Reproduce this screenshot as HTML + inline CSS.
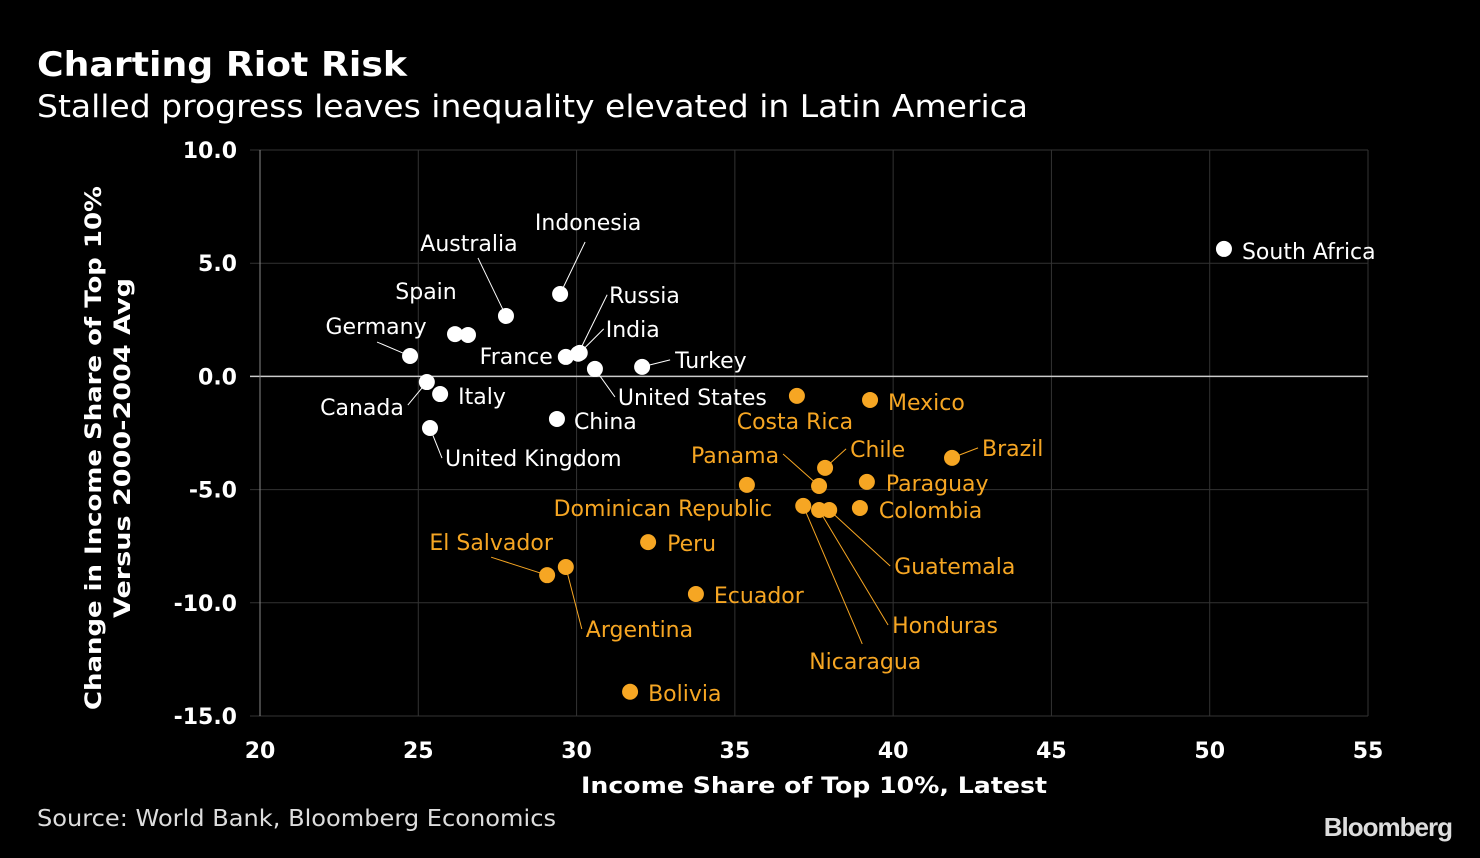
<!DOCTYPE html>
<html><head><meta charset="utf-8"><style>
html,body{margin:0;padding:0;background:#000;}
body{width:1480px;height:854px;overflow:hidden;font-family:"DejaVu Sans","Liberation Sans",sans-serif;}
</style></head><body>
<svg id="chart" width="1480" height="854" xmlns="http://www.w3.org/2000/svg" style="font-family:'DejaVu Sans','Liberation Sans',sans-serif">
<text x="37" y="76" fill="#fff" font-size="34" font-weight="bold" textLength="370" lengthAdjust="spacingAndGlyphs">Charting Riot Risk</text>
<text x="37" y="117" fill="#fff" font-size="31" textLength="991" lengthAdjust="spacingAndGlyphs">Stalled progress leaves inequality elevated in Latin America</text>
<text transform="translate(103,448) rotate(-90)" text-anchor="middle" fill="#fff" font-size="22" font-weight="bold"><tspan x="0" dy="-2" textLength="524" lengthAdjust="spacingAndGlyphs">Change in Income Share of Top 10%</tspan><tspan x="0" dy="29" textLength="340" lengthAdjust="spacingAndGlyphs">Versus 2000-2004 Avg</tspan></text>
<text x="814" y="793" text-anchor="middle" fill="#fff" font-size="22" font-weight="bold" textLength="466" lengthAdjust="spacingAndGlyphs">Income Share of Top 10%, Latest</text>
<text x="37" y="826" fill="#ddd" font-size="23" textLength="519" lengthAdjust="spacingAndGlyphs">Source: World Bank, Bloomberg Economics</text>
<text x="1452" y="836" text-anchor="end" fill="#ddd" font-size="26" font-weight="bold" font-family="Liberation Sans" letter-spacing="-1">Bloomberg</text>
<g id="grid"></g><g id="marks"></g>
</svg>
<script>
const xTicks=[20,25,30,35,40,45,50,55];
const yTicks=[10,5,0,-5,-10,-15];
const names=["South Africa","Indonesia","Australia","Spain","","Germany","France","India","Russia","United States","Turkey","Canada","Italy","China","United Kingdom","Costa Rica","Mexico","Chile","Brazil","Paraguay","Panama","Colombia","Dominican Republic","Guatemala","Honduras","Nicaragua","Peru","El Salvador","Argentina","Ecuador","Bolivia"];
const xVals=[50.45,29.48,27.77,26.16,26.57,24.74,29.66,30.1,30.05,30.58,32.07,25.27,25.69,29.38,25.37,36.96,39.27,37.85,41.86,39.17,37.66,38.95,35.38,37.98,37.66,37.16,32.26,29.07,29.66,33.77,31.69];
const yVals=[5.63,3.64,2.67,1.87,1.83,0.9,0.86,1.04,1.0,0.33,0.42,-0.25,-0.78,-1.88,-2.28,-0.86,-1.04,-4.04,-3.6,-4.66,-4.84,-5.81,-4.79,-5.9,-5.9,-5.72,-7.32,-8.78,-8.42,-9.61,-13.93];
const latam=[0,0,0,0,0,0,0,0,0,0,0,0,0,0,0,1,1,1,1,1,1,1,1,1,1,1,1,1,1,1,1];
const lab={"South Africa":[18,2,"start"],"Indonesia":[28,-72,"middle",25,-52],"Australia":[-37,-73,"middle",-28,-58],"Spain":[-29,-43,"middle"],"Germany":[-34,-30,"middle",-33,-14],"France":[-13,-1,"end"],"India":[26,-24,"start",24,-24],"Russia":[31,-59,"start",29,-59],"United States":[23,28,"start",20,28],"Turkey":[33,-7,"start",28,-7],"Canada":[-23,25,"end",-19,23],"Italy":[18,2,"start"],"China":[17,2,"start"],"United Kingdom":[15,30,"start",12,30],"Costa Rica":[-2,25,"middle"],"Mexico":[18,2,"start"],"Chile":[25,-19,"start",21,-19],"Brazil":[30,-10,"start",26,-10],"Paraguay":[19,1,"start"],"Panama":[-40,-31,"end",-36,-32],"Colombia":[19,2,"start"],"Dominican Republic":[-84,23,"middle"],"Guatemala":[65,56,"start",61,56],"Honduras":[73,115,"start",69,115],"Nicaragua":[62,155,"middle",59,138],"Peru":[19,1,"start"],"El Salvador":[-56,-33,"middle",-56,-18],"Argentina":[20,62,"start",16,62],"Ecuador":[18,1,"start"],"Bolivia":[18,1,"start"]};
const X0=260,X1=1368,Y0=150,Y1=716;
const sx=v=>X0+(v-20)/35*(X1-X0);
const sy=v=>Y0+(10-v)/25*(Y1-Y0);
const NS="http://www.w3.org/2000/svg";
function mk(t,a,p){const e=document.createElementNS(NS,t);for(const k in a)e.setAttribute(k,a[k]);p.appendChild(e);return e;}
const grid=document.getElementById('grid'),marks=document.getElementById('marks');
xTicks.forEach(t=>{
 if(t>20){const l=mk('line',{x1:sx(t),x2:sx(t),y1:Y0,y2:Y1,stroke:'#333','stroke-width':1},grid);
 
 }
 const tx=mk('text',{x:sx(t),y:758,'text-anchor':'middle',fill:'#fff','font-size':22,'font-weight':'bold'},grid);tx.textContent=t;
 
 
});
yTicks.forEach(t=>{
 const l=mk('line',{x1:250,x2:X1,y1:sy(t),y2:sy(t),stroke:t===0?'#ccc':'#333','stroke-width':t===0?1.5:1},grid);
 
 
 const tx=mk('text',{x:237,y:sy(t)+8,'text-anchor':'end',fill:'#fff','font-size':22,'font-weight':'bold'},grid);tx.textContent=t.toFixed(1);
 
 
});
const ax=mk('line',{x1:X0,x2:X0,y1:Y0,y2:Y1,stroke:'#888','stroke-width':1},grid);


names.forEach((n,i)=>{
 const cx=sx(xVals[i]),cy=sy(yVals[i]);const col=latam[i]?'#f6a623':'#fff';
 const L=lab[n];
 if(L&&L.length>3){const ln=mk('line',{x1:cx,y1:cy,x2:cx+L[3],y2:cy+L[4],stroke:col,'stroke-width':1},marks);
  
  }
 const c=mk('circle',{cx:cx,cy:cy,r:8,fill:col},marks);
 
 
 if(L){const t=mk('text',{x:cx+L[0],y:cy+L[1]+8,'text-anchor':L[2],fill:col,'font-size':22},marks);t.textContent=n;
  
  }
});
</script>
</body></html>
